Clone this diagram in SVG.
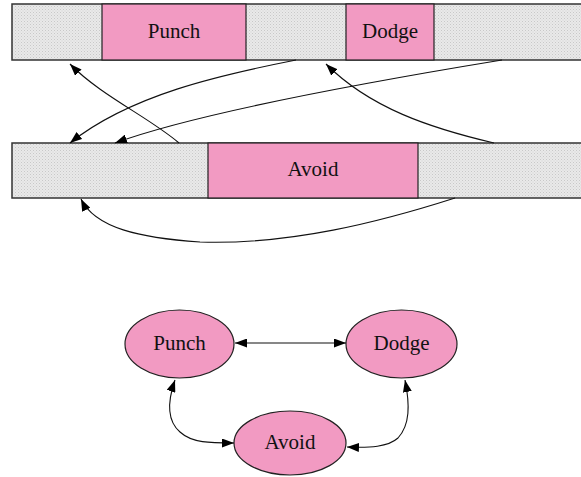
<svg xmlns="http://www.w3.org/2000/svg" width="581" height="477" viewBox="0 0 581 477">
<style>
.bar{fill:url(#dots);stroke:#333;stroke-width:1.5}
.seg{fill:#f29ac2;stroke:#222;stroke-width:1.2}
.lbl{font-family:"Liberation Serif","Times New Roman",serif;font-size:21px;fill:#111;text-anchor:middle;dominant-baseline:central}
.e{fill:none;stroke:#111;stroke-width:1.1}
.node{fill:#f29ac2;stroke:#222;stroke-width:1.2}
</style>
<defs>
<pattern id="dots" width="3" height="3" patternUnits="userSpaceOnUse">
<rect width="3" height="3" fill="#e9e9e9"/>
<rect width="1" height="1" fill="#c8c8c8"/>
<rect x="1.5" y="1.5" width="1" height="1" fill="#d2d2d2"/>
</pattern>
<marker id="ah" viewBox="0 0 12 9" refX="12" refY="4.5" markerWidth="12" markerHeight="9" markerUnits="userSpaceOnUse" orient="auto-start-reverse">
<path d="M0,0 L12,4.5 L0,9 z" fill="#000"/>
</marker>
</defs>
<g id="bar-top">
<rect class="bar" x="12" y="4" width="575" height="56"/>
<g id="seg-punch"><rect class="seg" x="102" y="4" width="144" height="56"/><text class="lbl" x="174" y="31">Punch</text></g>
<g id="seg-dodge"><rect class="seg" x="346" y="4" width="88" height="56"/><text class="lbl" x="390" y="31">Dodge</text></g>
</g>
<g id="bar-bottom">
<rect class="bar" x="12" y="143" width="575" height="55"/>
<g id="seg-avoid"><rect class="seg" x="208" y="143" width="210" height="55"/><text class="lbl" x="313" y="169">Avoid</text></g>
</g>
<g id="node-punch"><ellipse class="node" cx="179.5" cy="344" rx="54.5" ry="34"/><text class="lbl" x="179.5" y="343">Punch</text></g>
<g id="node-dodge"><ellipse class="node" cx="401.5" cy="344" rx="55.5" ry="34"/><text class="lbl" x="401.5" y="343">Dodge</text></g>
<g id="node-avoid"><ellipse class="node" cx="290" cy="443" rx="56" ry="32"/><text class="lbl" x="290" y="442">Avoid</text></g>
<g id="connectors">
<path class="e" d="M179,143 C150,118 100,95 70,64" marker-end="url(#ah)"/>
<path class="e" d="M494,143 C430,128 370,108 326,64" marker-end="url(#ah)"/>
<path class="e" d="M296,60 C220,75 130,95 70,143" marker-end="url(#ah)"/>
<path class="e" d="M502,60 C380,80 200,112 115,143" marker-end="url(#ah)"/>
<path class="e" d="M455,198 C380,222 290,245 200,242 C140,238 95,228 81,199" marker-end="url(#ah)"/>
<path class="e" d="M235,343 L346,343" marker-start="url(#ah)" marker-end="url(#ah)"/>
<path class="e" d="M175,380 C168,400 166,420 180,432 C192,443 210,443 234,443" marker-start="url(#ah)" marker-end="url(#ah)"/>
<path class="e" d="M405,380 C410,405 410,425 398,438 C388,447 370,448 347,447" marker-start="url(#ah)" marker-end="url(#ah)"/>
</g>
</svg>
